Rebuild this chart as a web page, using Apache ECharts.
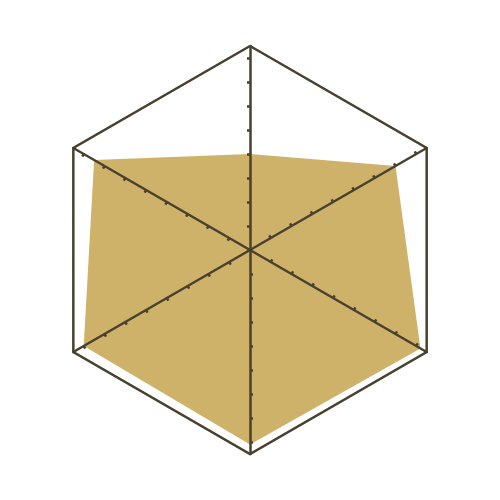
<!DOCTYPE html>
<html>
<head>
<meta charset="utf-8">
<script src="https://cdn.jsdelivr.net/npm/echarts@6/dist/echarts.min.js"></script>
<style>html,body{margin:0;padding:0;background:#fff}#c{width:500px;height:500px}</style>
</head>
<body>
<div id="c"></div>
<script>
// Indicators: counter-clockwise from top
const indicatorNames = ['A', 'B', 'C', 'D', 'E', 'F'];
const indicatorMax = 85;
const seriesValues = [40, 75, 80, 81, 82, 70];
const tickValues = [10, 20, 30, 40, 50, 60, 70, 80];
const ringValues = [85];

const lineColor = '#48412f';
const fillColor = '#cfb26a';

function radarBase(extra) {
  return Object.assign({
    z: 5,
    center: ['50%', '50%'],
    radius: 204,
    startAngle: 90,
    shape: 'polygon',
    splitNumber: 1,
    indicator: indicatorNames.map(n => ({name: n, min: 0, max: indicatorMax})),
    axisName: {show: false},
    axisLabel: {show: false},
    splitArea: {show: false}
  }, extra);
}

const chart = echarts.init(document.getElementById('c'), null, {renderer: 'canvas'});
chart.setOption({
  animation: false,
  backgroundColor: '#ffffff',
  radar: [
    // axes + outer hexagon
    radarBase({
      axisLine: {show: true, lineStyle: {color: lineColor, width: 2.5}},
      splitLine: {show: true, lineStyle: {color: lineColor, width: 2.5}},
      axisTick: {show: false, customValues: ringValues}
    }),
    // tick marks
    radarBase({
      axisLine: {show: false},
      splitLine: {show: false},
      axisTick: {show: true, length: 3, customValues: tickValues, lineStyle: {color: lineColor, width: 2.5}}
    })
  ],
  series: [{
    type: 'radar',
    radarIndex: 0,
    z: 1,
    symbol: 'none',
    lineStyle: {width: 0, color: fillColor},
    areaStyle: {color: fillColor, opacity: 1},
    data: [{value: seriesValues}]
  }]
});
</script>
</body>
</html>
